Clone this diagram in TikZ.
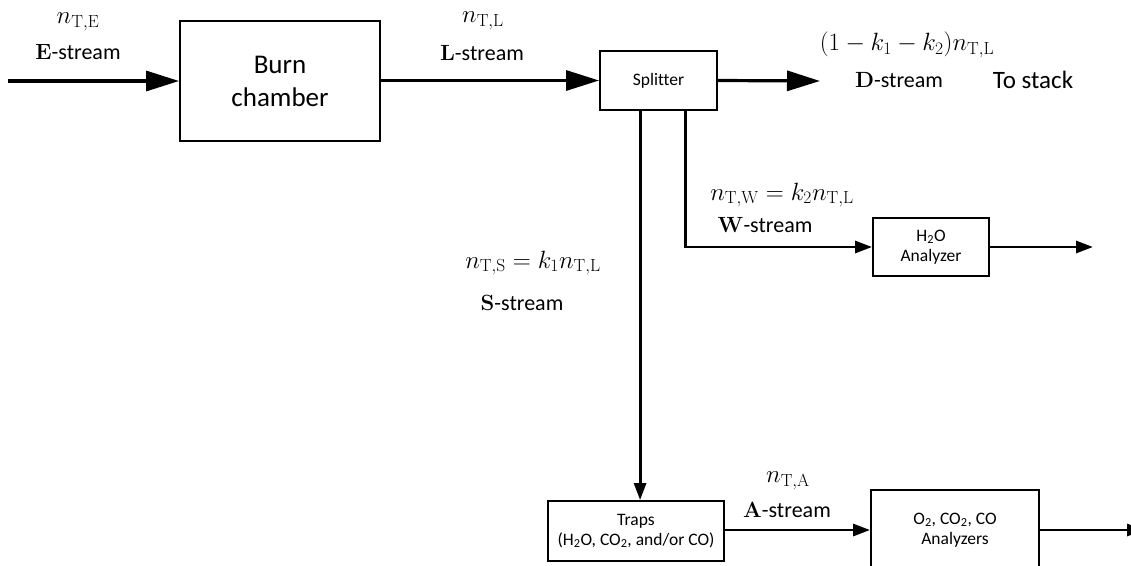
\RequirePackage{fix-cm}
\documentclass[tikz,border=0pt]{standalone}
\usepackage[no-math]{fontspec}
\setmainfont{Carlito}[Ligatures=NoCommon]
\usetikzlibrary{arrows.meta,calc}
\tikzset{
  unit/.style={draw, line width=1.9pt, inner sep=0pt, align=center,
               font=\fontsize{17.5}{20}\selectfont},
  bigflow/.style={line width=3.2pt, -{Triangle[length=33pt,width=20pt]}},
  smallflow/.style={line width=2.9pt, -{Triangle[length=17pt,width=12pt]}},
  lbl/.style={inner sep=0pt, font=\fontsize{22}{26}\selectfont},
  eq/.style={inner sep=0pt, font=\fontsize{25}{30}\selectfont},
}
\begin{document}
\begin{tikzpicture}[x=1pt,y=-1pt]
\useasboundingbox (0,0) rectangle (1131,565);
\clip (0,0) rectangle (1131,565);

% process units
\node[unit, minimum width=200pt, minimum height=120pt,
      font=\fontsize{27}{33}\selectfont] (burn) at (280,81) {Burn\\chamber};
\node[unit, minimum width=117pt, minimum height=59pt] (split) at (658.5,80.5) {Splitter};
\node[unit, minimum width=116pt, minimum height=58pt] (h2o) at (931,247) {H\textsubscript{2}O\\Analyzer};
\node[unit, minimum width=176pt, minimum height=60pt] (traps) at (636,531) {Traps\\(H\textsubscript{2}O, CO\textsubscript{2}, and/or CO)};
\node[unit, minimum width=168pt, minimum height=80pt] (ana) at (955,530) {O\textsubscript{2}, CO\textsubscript{2}, CO\\Analyzers};

% free ends
\coordinate (inE) at (8,81);
\coordinate (outD) at (820,81);
\coordinate (outW) at (1093,247);
\coordinate (outA) at (1144,530);

% flows
\draw[bigflow] (inE) -- (burn.west |- inE);
\draw[bigflow] (burn.east |- split.west) -- (split.west);
\draw[bigflow] (split.east) -- (outD);
\draw[smallflow] ($(split.south west)!0.345!(split.south east)$) coordinate (sTop)
      -- (sTop |- traps.north);
\draw[smallflow] ($(split.south west)!0.73!(split.south east)$) |- (h2o.west);
\draw[smallflow] (h2o.east) -- (outW);
\draw[smallflow] (traps.east |- ana.west) -- (ana.west);
\draw[smallflow] (ana.east) -- (outA);

% stream labels
\node[eq] (nE) at (78,22) {$n_{\mathrm{T,E}}$};
\node[lbl] (tE) at (78,52) {$\mathbf{E}$-stream};
\node[eq] (nL) at (483,21) {$n_{\mathrm{T,L}}$};
\node[lbl] (tL) at (482,53) {$\mathbf{L}$-stream};
\node[eq] (nD) at (907,45) {$(1-k_1-k_2)n_{\mathrm{T,L}}$};
\node[lbl] (tD) at (899,80) {$\mathbf{D}$-stream};
\node[lbl, font=\fontsize{25}{30}\selectfont] (stack) at (1033,80) {To stack};
\node[eq] (nW) at (782,195) {$n_{\mathrm{T,W}} = k_2 n_{\mathrm{T,L}}$};
\node[lbl] (tW) at (765,225) {$\mathbf{W}$-stream};
\node[eq] (nS) at (533,263) {$n_{\mathrm{T,S}} = k_1 n_{\mathrm{T,L}}$};
\node[lbl] (tS) at (522,303) {$\mathbf{S}$-stream};
\node[eq] (nA) at (788,481) {$n_{\mathrm{T,A}}$};
\node[lbl] (tA) at (787,510) {$\mathbf{A}$-stream};
\end{tikzpicture}
\end{document}
